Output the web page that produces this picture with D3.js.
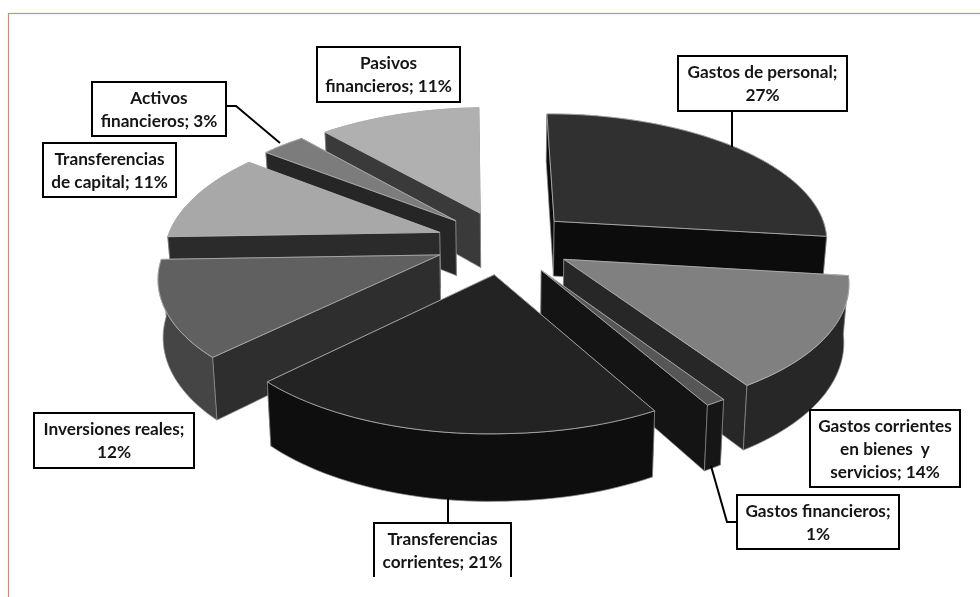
<!DOCTYPE html>
<html><head><meta charset="utf-8">
<script src="https://cdn.jsdelivr.net/npm/d3@7/dist/d3.min.js"></script>
<style>html,body{margin:0;padding:0;background:#fff}svg{display:block;filter:blur(0.5px)}</style>
</head><body><svg id="c" width="980" height="597"></svg>
<script>
const categories=["Gastos de personal","Gastos corrientes en bienes y servicios","Gastos financieros","Transferencias corrientes","Inversiones reales","Transferencias de capital","Activos financieros","Pasivos financieros"];
const values=[27,14,1,21,12,11,3,11];
const topColors=["#303030","#808080","#565656","#232323","#606060","#a8a8a8","#7c7c7c","#b0b0b0"];
const radialColors=["#0c0c0c","#272727","#141414","#0f0f0f","#2e2e2e","#2b2b2b","#262626","#3a3a3a"];
const outerColors=["#0c0c0c","#272727","#161616","#0e0e0e","#454545","#2b2b2b","#262626","#3a3a3a"];
const drawOrder=[7,6,5,0,4,1,2,3];
const labelLines=[["Gastos de personal;","27%"],["Gastos corrientes","en bienes  y","servicios; 14%"],["Gastos financieros;","1%"],["Transferencias","corrientes; 21%"],["Inversiones reales;","12%"],["Transferencias","de capital; 11%"],["Activos","financieros; 3%"],["Pasivos","financieros; 11%"]];
const labelBoxes=[[678,56,169,55],[810,410,150,77],[737,495,162,54],[374,523,137,54],[34,413,160,55],[43,143,133,54],[92,82,134,54],[317,47,143,55]];
const openBottom=[false,false,false,true,false,false,false,false];
const leaders=[[[732,111],[732,147]],null,[[711,466],[727,522],[737,522]],[[448,497],[448,523]],null,null,[[226,106],[236,106],[280,143]],null];

const svg=d3.select("#c");
svg.append("rect").attr("x",8.5).attr("y",13.5).attr("width",1000).attr("height",700).attr("fill","#fff").attr("stroke","#c4907c").attr("stroke-width",1.2);

const cx=504,cy=242,A=275,B=127.4,P=0.137,H=56,EXPLODE=0.25,SHRINK=0.985;
const xS=d3.scaleLinear().domain([0,1]).range([0,A]);
const yS=d3.scaleLinear().domain([0,1]).range([0,B]);
const proj=(u,v,bottom)=>{
  const w=1-P*v;
  const dx=xS(u/w),dy=yS(v/w);
  const skewX=(dy<0&&dx>0)?0.012:0.04;
  const skewY=dx<0?-0.016:-0.002;
  let x=cx+dx+skewX*dy,y=cy+dy+skewY*dx;
  if(bottom){x=cx+(x-cx)*SHRINK;y+=H/w;}
  return [x,y];
};
const line=d3.line();
const arcs=d3.pie().sort(null).value(d=>d)(values);
const layer=svg.append("g");
drawOrder.forEach(i=>{
  const a=arcs[i];
  const mid=(a.startAngle+a.endAngle)/2;
  const ax=EXPLODE*Math.sin(mid),ay=-EXPLODE*Math.cos(mid);
  const n=Math.max(4,Math.ceil((a.endAngle-a.startAngle)/0.03));
  const rim=d3.range(n+1).map(k=>{
    const t=a.startAngle+(a.endAngle-a.startAngle)*k/n;
    return [ax+Math.sin(t),ay-Math.cos(t)];
  });
  const apex=[ax,ay];
  const wall=(pts,fill)=>({pts,fill,mean:d3.mean(pts,p=>p[1])});
  const faces=[
    wall([apex,rim[0]],radialColors[i]),
    wall([apex,rim[n]],radialColors[i]),
    wall(rim,outerColors[i])
  ].sort((p,q)=>p.mean-q.mean);
  const g=layer.append("g");
  faces.forEach(f=>{
    const up=f.pts.map(p=>proj(p[0],p[1],false));
    const dn=f.pts.map(p=>proj(p[0],p[1],true)).reverse();
    g.append("path").attr("d",line(up.concat(dn))+"Z").attr("fill",f.fill)
      .attr("stroke","#8e8e8e").attr("stroke-width",0.7).attr("stroke-linejoin","round");
  });
  const top=[apex].concat(rim).map(p=>proj(p[0],p[1],false));
  g.append("path").attr("d",line(top)+"Z").attr("fill",topColors[i])
    .attr("stroke","#b5b5b5").attr("stroke-width",0.8).attr("stroke-linejoin","round");
});

leaders.forEach(l=>{ if(l) svg.append("path").attr("d",line(l)).attr("fill","none").attr("stroke","#000").attr("stroke-width",2); });

labelBoxes.forEach((b,i)=>{
  svg.append("rect").attr("x",b[0]).attr("y",b[1]).attr("width",b[2]).attr("height",b[3]).attr("fill","#fff");
  const outline=[[b[0],b[1]+b[3]],[b[0],b[1]],[b[0]+b[2],b[1]],[b[0]+b[2],b[1]+b[3]]];
  svg.append("path").attr("d",line(outline)+(openBottom[i]?"":"Z")).attr("fill","none").attr("stroke","#000").attr("stroke-width",2);
  const ls=labelLines[i];
  const lh=23;
  const y0=b[1]+b[3]/2-(ls.length-1)*lh/2+6;
  ls.forEach((t,k)=>{
    svg.append("text").attr("x",b[0]+b[2]/2).attr("y",y0+k*lh).attr("text-anchor","middle")
      .attr("font-family","Lato, 'Open Sans', sans-serif").attr("font-weight",700).attr("font-size",17.2)
      .attr("fill","#151515").style("white-space","pre").text(t);
  });
});
</script></body></html>
